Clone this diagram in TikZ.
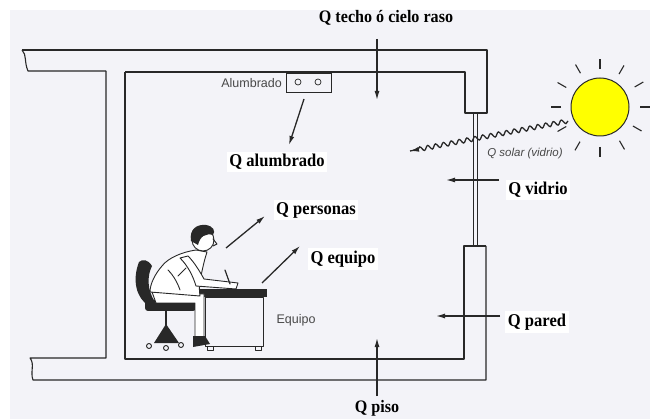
\documentclass[tikz,border=0pt]{standalone}
\usepackage{fontspec}
\usetikzlibrary{arrows.meta,decorations.pathmorphing,calc}
\setmainfont{Liberation Serif}
\newfontfamily\labfont[FakeStretch=0.92]{Liberation Serif}
\newfontfamily\smallfont{Liberation Sans}
\definecolor{paper}{RGB}{243,243,248}
\definecolor{ink}{RGB}{40,40,40}
\definecolor{sunfill}{RGB}{255,255,0}
\tikzset{
  wall/.style={draw=ink, line width=1.1pt, line join=round},
  glass/.style={draw=ink, line width=0.7pt},
  heat/.style={draw=ink, line width=1.3pt, -{Latex[length=9pt,width=5pt]}},
  qlabel/.style={fill=white, inner sep=2.5pt, font=\labfont\bfseries\fontsize{18}{20}\selectfont},
  qplain/.style={inner sep=1pt, font=\labfont\bfseries\fontsize{17.5}{20}\selectfont},
  note/.style={inner sep=1pt, font=\smallfont\fontsize{12.5}{14}\selectfont, text=ink!85},
  ray/.style={draw=ink, line width=1.1pt},
  figure/.style={draw=ink, line width=0.9pt, line join=round, line cap=round},
}
\begin{document}
\begin{tikzpicture}[x=1pt, y=-1pt]
  % page and paper
  \useasboundingbox (0,0) rectangle (650,419);
  \fill[white] (0,0) rectangle (650,419);
  \fill[paper] (10,10) rectangle (650,419);

  % roof slab with broken left end
  \draw[wall] (22,50) -- (487,50) -- (487,113) -- (465,113) -- (465,72) -- (125,72);
  \draw[wall] (22,50) .. controls (27,55) and (24,62) .. (28,71) -- (106,71);
  % left wall and floor slab with broken left end
  \draw[wall] (106,71) -- (106,358) -- (30,358)
     .. controls (35,364) and (30,372) .. (33,380) -- (486,380) -- (486,246);
  \draw[wall] (125,72) -- (125,359) -- (464,359) -- (464,246) -- (486,246);
  % window glass
  \draw[glass] (473,113) -- (473,246);
  \draw[glass] (477,113) -- (477,246);

  % lamp on the ceiling
  \node[draw=ink, line width=0.8pt, minimum width=45pt, minimum height=19pt, inner sep=0pt] (lamp) at (309,82.5) {};
  \draw[ink, line width=0.7pt] (298,82) circle (3pt) (318,82) circle (3pt);
  \node[note, anchor=east] (alum) at (283,83) {Alumbrado};

  % sun
  \node[circle, draw=ink, line width=1pt, fill=sunfill, minimum size=58pt, inner sep=0pt] (sun) at (600,107) {};
  \foreach \a/\r in {0/40,30/38,60/39,90/40,120/40,150/39,180/39,210/39,240/39,270/38,300/38,330/40}
    \draw[ray] ($(sun.center)+(\a:\r)$) -- ($(sun.center)+(\a:\r+10)$);

  % labels
  \node[qplain] (techo) at (386,18) {Q techo ó cielo raso};
  \node[qlabel] (qalum) at (277,162) {Q alumbrado};
  \node[note, font=\smallfont\itshape\fontsize{11.5}{13}\selectfont] (solar) at (525,154) {Q solar (vidrio)};
  \node[qlabel] (vidrio) at (538,190) {Q vidrio};
  \node[qlabel] (person) at (316,210) {Q personas};
  \node[qlabel] (equipo) at (343,259) {Q equipo};
  \node[qlabel] (pared) at (537,322) {Q pared};
  \node[qplain] (piso) at (377,408) {Q piso};
  \node[note] (eqtxt) at (296,320) {Equipo};

  % heat gains
  \coordinate (techoA) at (377,39);  \coordinate (techoB) at (377,100);
  \draw[heat] (techoA) -- (techoB);
  \coordinate (alumA) at (304,99);   \coordinate (alumB) at (289,145);
  \draw[heat] (alumA) -- (alumB);
  \coordinate (solarA) at (568,121); \coordinate (solarB) at (410,151);
  \draw[draw=ink, line width=1.3pt, decorate, decoration={snake, amplitude=2.2pt, segment length=8pt, post length=7pt}]
     (solarA) -- (solarB);
  \draw[ink, line width=1.3pt, -{Latex[length=9pt,width=5pt]}] ($(solarB)!7pt!(solarA)$) -- (solarB);
  \coordinate (vidA) at (499,180);   \coordinate (vidB) at (446,180);
  \draw[heat] (vidA) -- (vidB);
  \coordinate (perA) at (226,248);   \coordinate (perB) at (265,216);
  \draw[heat] (perA) -- (perB);
  \coordinate (eqA) at (262,283);    \coordinate (eqB) at (300,246);
  \draw[heat] (eqA) -- (eqB);
  \coordinate (parA) at (500,316);   \coordinate (parB) at (436,316);
  \draw[heat] (parA) -- (parB);
  \coordinate (pisoA) at (377,396);  \coordinate (pisoB) at (377,338);
  \draw[heat] (pisoA) -- (pisoB);

  % office chair
  \fill[ink] (139,262) .. controls (132,280) and (136,298) .. (149,306)
     -- (155,302) .. controls (147,290) and (147,276) .. (152,266)
     .. controls (148,259) and (142,259) .. cycle;
  \fill[ink, rounded corners=3pt] (145,300) rectangle (196,311);
  \draw[figure, line width=1.4pt] (166,311) -- (166,327);
  \fill[ink] (166,324) -- (154,343) -- (179,343) -- cycle;
  \draw[figure] (149,346) circle (2.5pt) (166,348) circle (2.5pt) (181,345) circle (2.5pt);

  % desk
  \fill[ink] (197,289) rectangle (267,297);
  \draw[figure] (205,297) rectangle (263,346);
  \draw[figure] (207,346) rectangle (213,350) (255,346) rectangle (261,350);

  % seated man writing: legs
  \draw[figure, fill=white] (152,292) -- (204,294) -- (204,339) -- (195,339) -- (195,303) -- (156,303) -- cycle;
  \fill[ink] (193,336) -- (205,336) -- (210,344) -- (193,347) -- cycle;
  % torso, bent forward over the desk
  \draw[figure, fill=white] (196,250) .. controls (182,252) and (168,258) .. (162,266)
     .. controls (155,274) and (150,284) .. (150,292)
     -- (200,296) .. controls (199,288) and (199,282) .. (201,276)
     .. controls (203,266) and (205,258) .. (207,252) -- cycle;
  \draw[figure] (168,270) .. controls (174,276) and (178,284) .. (180,290);
  \draw[figure] (178,276) -- (186,268);
  % arms resting on the desk
  \draw[figure, fill=white] (180,258) .. controls (188,266) and (193,276) .. (196,286)
     -- (236,289) -- (238,283) -- (204,279) .. controls (199,270) and (194,262) .. (188,256) -- cycle;
  \draw[figure, line width=1.2pt] (225,270) -- (230,284);
  % head
  \draw[figure, fill=white] (203,240) circle (11pt);
  \fill[ink] (191,241) .. controls (189,229) and (197,224) .. (206,225)
     .. controls (213,226) and (216,231) .. (213,235)
     .. controls (206,233) and (200,236) .. (198,245) -- cycle;
  \draw[figure] (213,239) -- (217,244) -- (213,246);
\end{tikzpicture}
\end{document}
